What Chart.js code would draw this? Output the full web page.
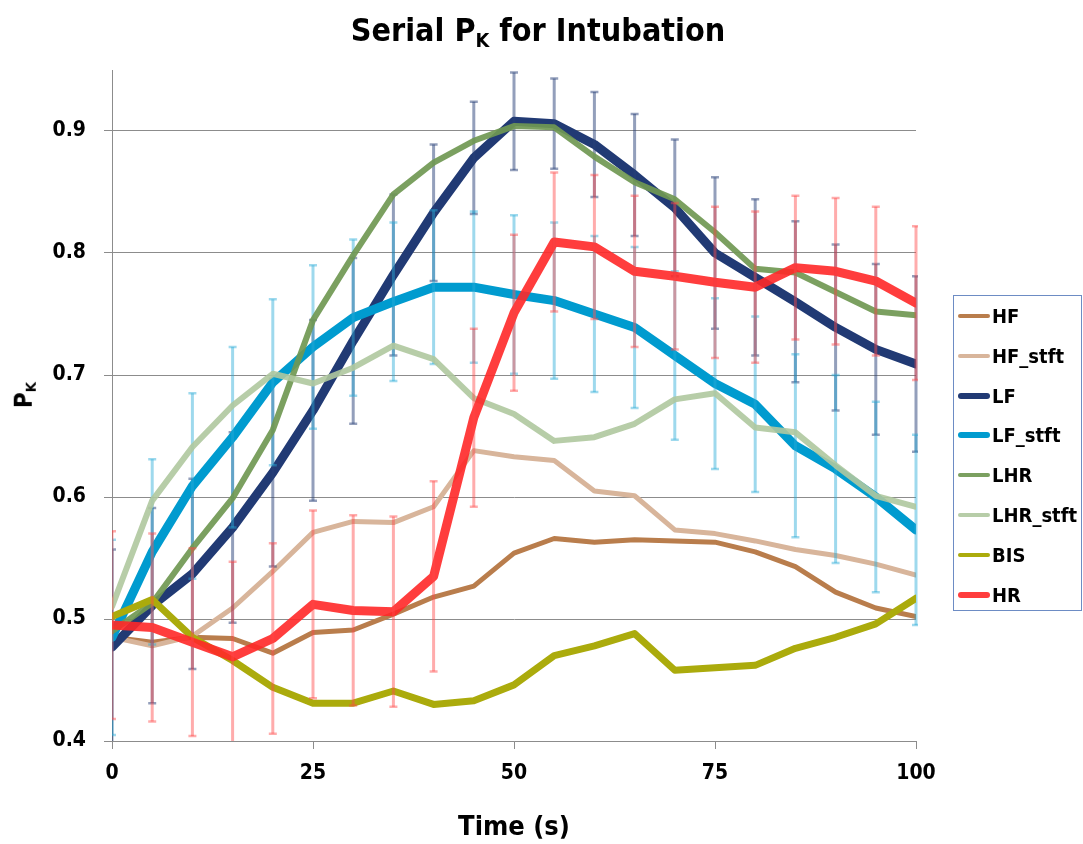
<!DOCTYPE html>
<html>
<head>
<meta charset="utf-8">
<script src="https://cdn.jsdelivr.net/npm/chart.js@4.4.1/dist/chart.umd.min.js"></script>
<style>
  html, body { margin: 0; padding: 0; background: #fff; }
  #wrap { position: relative; width: 1083px; height: 844px; overflow: hidden; }
  #chart { position: absolute; left: 0; top: 0; }
  .lbl { position: absolute; font-family: 'Liberation Sans Narrow', 'DejaVu Sans Condensed', 'Liberation Sans', sans-serif; font-weight: bold; color: #000; white-space: nowrap; }
  .lbl sub { font-size: 62%; vertical-align: -0.3em; }
  #title { left: 0; width: 1076px; top: 11px; text-align: center; font-size: 32px; }
  #ylabel { left: 25px; top: 395px; font-size: 24px; transform: translate(-50%, -50%) rotate(-90deg); }
  #legend { position: absolute; left: 953px; top: 295px; width: 129px; height: 316px; border: 1px solid #6d8cc4; box-sizing: border-box; }
  .item { position: absolute; left: 4px; height: 24px; display: flex; align-items: center; font-family: 'Liberation Sans Narrow', 'DejaVu Sans Condensed', 'Liberation Sans', sans-serif; font-weight: bold; font-size: 20px; }
  .swatch { width: 32px; border-radius: 4px; margin-right: 2px; }
</style>
</head>
<body>
<div id="wrap">
  <canvas id="chart" width="1083" height="844"></canvas>
  <div id="title" class="lbl">Serial P<sub>K</sub> for Intubation</div>
  <div id="ylabel" class="lbl">P<sub>K</sub></div>
  <div id="legend"></div>
</div>
<script>
// time axis (s)
const time = [0, 5, 10, 15, 20, 25, 30, 35, 40, 45, 50, 55, 60, 65, 70, 75, 80, 85, 90, 95, 100]

// series values (PK)
const HF      = [0.485, 0.481, 0.485, 0.484, 0.472, 0.489, 0.491, 0.504, 0.518, 0.527, 0.554, 0.566, 0.563, 0.565, 0.564, 0.563, 0.555, 0.543, 0.522, 0.509, 0.502]
const HF_stft = [0.485, 0.478, 0.486, 0.509, 0.539, 0.571, 0.580, 0.579, 0.592, 0.638, 0.633, 0.630, 0.605, 0.601, 0.573, 0.570, 0.564, 0.557, 0.552, 0.545, 0.536]
const LF      = [0.477, 0.511, 0.537, 0.575, 0.620, 0.671, 0.728, 0.782, 0.833, 0.878, 0.908, 0.906, 0.889, 0.864, 0.837, 0.800, 0.780, 0.760, 0.739, 0.721, 0.709]
const LF_stft = [0.485, 0.555, 0.609, 0.649, 0.694, 0.723, 0.747, 0.760, 0.772, 0.772, 0.766, 0.761, 0.750, 0.739, 0.716, 0.693, 0.676, 0.642, 0.623, 0.600, 0.573]
const LHR     = [0.490, 0.513, 0.558, 0.599, 0.655, 0.745, 0.798, 0.848, 0.874, 0.892, 0.904, 0.903, 0.879, 0.858, 0.844, 0.817, 0.787, 0.784, 0.768, 0.752, 0.749]
const LHR_stft = [0.510, 0.597, 0.641, 0.675, 0.701, 0.693, 0.706, 0.724, 0.713, 0.681, 0.668, 0.646, 0.649, 0.660, 0.680, 0.685, 0.657, 0.653, 0.626, 0.601, 0.592]
const BIS     = [0.502, 0.516, 0.485, 0.466, 0.444, 0.431, 0.431, 0.441, 0.430, 0.433, 0.446, 0.470, 0.478, 0.488, 0.458, 0.460, 0.462, 0.476, 0.485, 0.496, 0.517]
const HR      = [0.495, 0.493, 0.481, 0.469, 0.484, 0.512, 0.507, 0.506, 0.535, 0.665, 0.751, 0.809, 0.805, 0.785, 0.781, 0.776, 0.772, 0.788, 0.785, 0.777, 0.759]

// error bar half-widths
const LF_err      = [0.080, 0.080, 0.078, 0.078, 0.077, 0.074, 0.068, 0.066, 0.056, 0.046, 0.040, 0.037, 0.043, 0.050, 0.056, 0.062, 0.064, 0.066, 0.068, 0.070, 0.072]
const LF_stft_err = [0.080, 0.076, 0.076, 0.074, 0.068, 0.067, 0.064, 0.065, 0.063, 0.062, 0.065, 0.064, 0.064, 0.066, 0.069, 0.070, 0.072, 0.075, 0.077, 0.078, 0.078]
const HR_err      = [0.077, 0.077, 0.077, 0.078, 0.078, 0.077, 0.078, 0.078, 0.078, 0.073, 0.064, 0.057, 0.059, 0.062, 0.060, 0.062, 0.062, 0.059, 0.060, 0.061, 0.063]

// tick values
const yTicks = [0.4, 0.5, 0.6, 0.7, 0.8, 0.9]
const xTicks = [0, 25, 50, 75, 100]

const FONT = "'Liberation Sans Narrow', 'DejaVu Sans Condensed', 'Liberation Sans', sans-serif"

const series = [
  { label: 'HF',       data: HF,       color: '#b97d4c', width: 5 },
  { label: 'HF_stft',  data: HF_stft,  color: '#d8b59b', width: 5 },
  { label: 'LF',       data: LF,       color: '#213a74', width: 9, errors: LF_err, errorColor: 'rgba(40,64,120,0.5)' },
  { label: 'LF_stft',  data: LF_stft,  color: '#009bcf', width: 9, errors: LF_stft_err, errorColor: 'rgba(40,170,215,0.45)' },
  { label: 'LHR',      data: LHR,      color: 'rgba(112,152,82,0.92)', width: 6 },
  { label: 'LHR_stft', data: LHR_stft, color: 'rgba(175,200,158,0.9)', width: 6 },
  { label: 'BIS',      data: BIS,      color: '#abab0c', width: 7 },
  { label: 'HR',       data: HR,       color: 'rgba(255,40,40,0.9)', width: 9, errors: HR_err, errorColor: 'rgba(255,70,70,0.45)' }
]

const datasets = series.map((s, i) => ({
  label: s.label,
  data: s.data.map((v, j) => ({ x: time[j], y: v })),
  borderColor: s.color,
  backgroundColor: s.color,
  borderWidth: s.width,
  pointRadius: 0,
  tension: 0,
  borderJoinStyle: 'round',
  borderCapStyle: 'round',
  order: series.length - i,
  errors: s.errors,
  errorColor: s.errorColor
}))

// draw each dataset's error bars right after its line
const errorBars = {
  id: 'errorBars',
  afterDatasetDraw(chart, args) {
    const ds = chart.data.datasets[args.index]
    if (!ds.errors) return
    const { ctx, chartArea } = chart
    const x = chart.scales.x, y = chart.scales.y
    ctx.save()
    ctx.beginPath()
    ctx.rect(chartArea.left, chartArea.top - 2, chartArea.width + 2, chartArea.height + 2)
    ctx.clip()
    ctx.strokeStyle = ds.errorColor
    ds.data.forEach((p, i) => {
      const px = x.getPixelForValue(p.x)
      const top = y.getPixelForValue(p.y + ds.errors[i])
      const bot = y.getPixelForValue(p.y - ds.errors[i])
      ctx.lineWidth = 3
      ctx.beginPath()
      ctx.moveTo(px, top)
      ctx.lineTo(px, bot)
      ctx.stroke()
      ctx.lineWidth = 2.5
      ctx.beginPath()
      ctx.moveTo(px - 4, top); ctx.lineTo(px + 4, top)
      ctx.moveTo(px - 4, bot); ctx.lineTo(px + 4, bot)
      ctx.stroke()
    })
    ctx.restore()
  }
}

const chart = new Chart(document.getElementById('chart'), {
  type: 'line',
  data: { datasets },
  plugins: [errorBars],
  options: {
    responsive: false,
    animation: false,
    layout: { padding: { left: 0, top: 70, right: 167, bottom: 0 } },
    plugins: { legend: { display: false }, tooltip: { enabled: false }, title: { display: false } },
    scales: {
      x: {
        type: 'linear',
        min: 0, max: 100,
        afterFit: s => { s.height = 103 },
        afterBuildTicks: s => { s.ticks = xTicks.map(v => ({ value: v })) },
        grid: { drawOnChartArea: false, drawTicks: true, tickLength: 8, color: '#8c8c8c', lineWidth: 1 },
        border: { color: '#8c8c8c', width: 1 },
        ticks: { color: '#000', font: { family: FONT, size: 21, weight: 'bold' }, padding: 12, maxRotation: 0 },
        title: { display: true, text: 'Time (s)', color: '#000', font: { family: FONT, size: 27, weight: 'bold' }, padding: { top: 0, bottom: 0 } }
      },
      y: {
        min: 0.4, max: 0.95,
        afterFit: s => { s.width = 112 },
        afterBuildTicks: s => { s.ticks = yTicks.map(v => ({ value: v })) },
        grid: { drawTicks: true, tickLength: 8, color: '#8c8c8c', lineWidth: 1 },
        border: { color: '#8c8c8c', width: 1 },
        ticks: { color: '#000', font: { family: FONT, size: 21, weight: 'bold' }, padding: 18, callback: v => v.toFixed(1) }
      }
    }
  }
})

// legend built from the chart datasets
const legend = document.getElementById('legend')
series.forEach((s, i) => {
  const item = document.createElement('div')
  item.className = 'item'
  item.style.top = (8 + i * 39.8) + 'px'
  const sw = document.createElement('div')
  sw.className = 'swatch'
  sw.style.height = (s.width >= 9 ? 6 : 4) + 'px'
  sw.style.background = s.color
  const tx = document.createElement('span')
  tx.textContent = s.label
  item.appendChild(sw)
  item.appendChild(tx)
  legend.appendChild(item)
})
</script>
</body>
</html>
